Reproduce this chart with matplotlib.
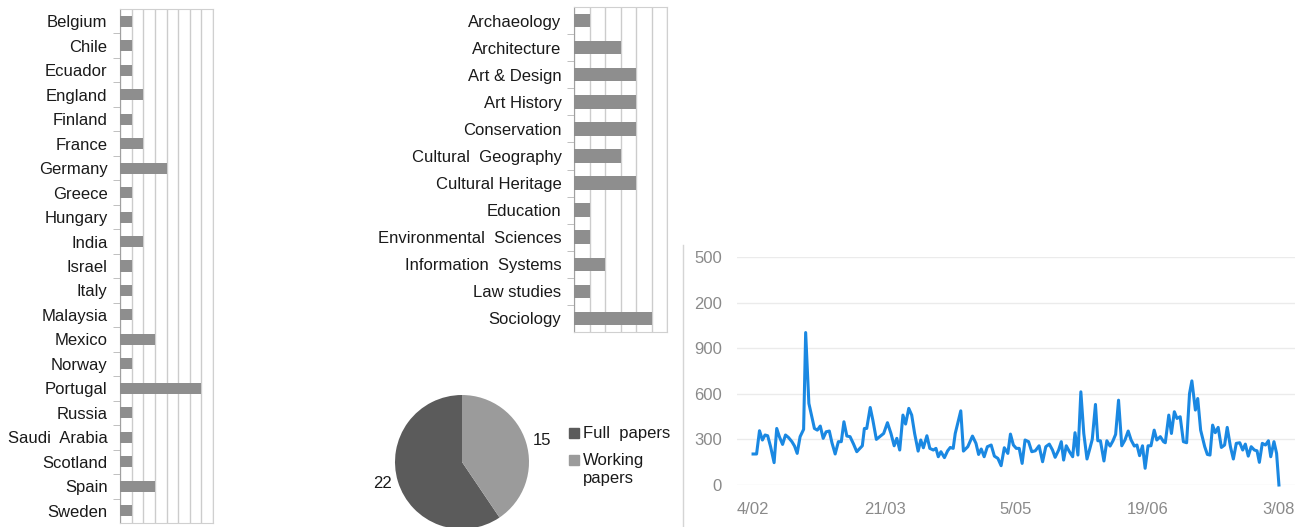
import matplotlib.pyplot as plt
from matplotlib.patches import Rectangle
from matplotlib.lines import Line2D

plt.rcParams['font.family'] = ['Liberation Sans', 'DejaVu Sans']

# papers per country
countries = ['Belgium', 'Chile', 'Ecuador', 'England', 'Finland', 'France', 'Germany',
             'Greece', 'Hungary', 'India', 'Israel', 'Italy', 'Malaysia', 'Mexico',
             'Norway', 'Portugal', 'Russia', 'Saudi  Arabia', 'Scotland', 'Spain', 'Sweden']
country_counts = [1, 1, 1, 2, 1, 2, 4, 1, 1, 2, 1, 1, 1, 3, 1, 7, 1, 1, 1, 3, 1]

# papers per discipline
disciplines = ['Archaeology', 'Architecture', 'Art & Design', 'Art History', 'Conservation',
               'Cultural  Geography', 'Cultural Heritage', 'Education',
               'Environmental  Sciences', 'Information  Systems', 'Law studies', 'Sociology']
discipline_counts = [1, 3, 4, 4, 4, 3, 4, 1, 1, 2, 1, 5]

# paper types
paper_types = ['Full  papers', 'Working\npapers']
paper_counts = [22, 15]

# daily visits (day offset from 4/02, value)
days = [0.0, 1.2, 2.2, 3.2, 4.1, 5.0, 6.0, 7.2, 8.1, 9.0, 10.1, 11.1, 12.1, 13.3, 14.2,
        15.1, 16.1, 17.3, 18.0, 19.1, 20.1, 21.0, 22.0, 23.0, 24.0, 25.0, 26.1, 27.0,
        28.1, 29.2, 30.2, 31.1, 32.1, 33.2, 34.4, 35.5, 36.6, 37.4, 38.1, 38.9, 40.1,
        41.0, 42.2, 43.6, 44.7, 46.0, 47.2, 48.3, 49.2, 50.2, 51.3, 52.2, 53.3, 54.3,
        55.3, 56.5, 57.4, 58.3, 59.5, 60.5, 61.7, 62.6, 63.4, 64.3, 65.5, 66.6, 67.5,
        68.5, 69.2, 71.1, 72.0, 73.5, 75.1, 76.3, 77.2, 78.1, 79.1, 80.2, 81.5, 82.6,
        83.8, 84.9, 86.0, 87.2, 88.1, 89.1, 90.1, 91.1, 92.1, 93.1, 94.3, 95.4, 96.6,
        97.9, 99.1, 100.2, 101.4, 102.5, 103.4, 104.6, 105.5, 106.3, 107.2, 108.3,
        109.4, 110.2, 111.2, 112.2, 113.2, 114.3, 115.2, 116.1, 117.2, 118.0, 118.9,
        120.1, 121.1, 122.2, 123.2, 124.1, 125.1, 126.2, 127.3, 128.4, 129.4, 130.5,
        131.4, 132.3, 133.3, 134.2, 135.2, 136.2, 137.3, 138.2, 139.4, 140.5, 141.1,
        142.3, 143.2, 144.2, 145.1, 146.2, 147.3, 148.4, 149.4, 150.2, 151.4, 152.2,
        153.2, 154.6, 155.5, 156.4, 157.3, 158.2, 159.2, 160.3, 161.4, 162.3, 163.4,
        164.4, 165.4, 166.6, 167.6, 168.5, 169.5, 170.5, 171.6, 172.5, 173.3, 174.3,
        175.4, 176.4, 177.2, 178.3, 179.2, 180.0]
visits = [204, 204, 357, 296, 329, 324, 252, 147, 372, 318, 267, 329, 313, 285, 256,
          208, 318, 366, 1003, 537, 449, 372, 361, 388, 307, 350, 355, 278,
          204, 285, 285, 416, 322, 318, 269, 219, 241, 258, 372, 372, 510,
          427, 300, 322, 339, 410, 339, 258, 307, 230, 460, 401, 504, 460,
          339, 223, 296, 245, 324, 241, 230, 241, 186, 219, 180, 225, 247,
          241, 339, 488, 223, 252, 322, 274, 201, 237, 186, 252, 263, 190,
          175, 127, 245, 208, 335, 263, 241, 241, 142, 296, 285, 219, 225,
          258, 153, 252, 269, 230, 182, 230, 285, 164, 258, 219,
          186, 344, 197, 613, 339, 171, 234, 300, 530, 291, 291,
          158, 291, 256, 291, 333, 558, 258, 296, 355, 296, 256,
          263, 193, 258, 110, 258, 258, 361, 296, 318, 285, 278,
          460, 339, 482, 438, 449, 285, 278, 602, 685, 493, 569,
          361, 252, 201, 197, 394, 344, 379, 247, 263, 379, 252,
          171, 274, 278, 230, 269, 190, 252, 230, 225, 149, 274,
          263, 291, 186, 285, 208, 0]
x_tick_days = [0, 45, 90, 135, 180]
x_tick_labels = ['4/02', '21/03', '5/05', '19/06', '3/08']
y_tick_values = [0, 300, 600, 900, 1200, 1500]
y_tick_labels = ['0', '300', '600', '900', '200', '500']  # as cropped in the picture

W, H = 1308, 527
fig = plt.figure(figsize=(W / 100, H / 100), dpi=100)
text_col = '#1a1a1a'


def box(x0, y0, x1, y1):
    # pixel box (y from top) -> figure fraction rect
    return [x0 / W, 1 - y1 / H, (x1 - x0) / W, (y1 - y0) / H]


def hbar_panel(rect, labels, values, xmax, bar_h):
    ax = fig.add_axes(rect)
    pos = list(range(len(labels)))
    ax.barh(pos, values, height=bar_h, color='#8e8e8e', zorder=3)
    ax.set_ylim(len(labels) - 0.5, -0.5)
    ax.set_xlim(0, xmax)
    ax.set_xticks(range(xmax + 1))
    ax.tick_params(axis='x', length=0, labelbottom=False)
    ax.grid(axis='x', color='#cccccc', lw=1, zorder=0)
    ax.set_yticks(pos)
    ax.set_yticklabels(labels, fontsize=12, color=text_col)
    ax.set_yticks([p + 0.5 for p in pos[:-1]], minor=True)
    ax.tick_params(axis='y', which='major', length=0, pad=9)
    ax.tick_params(axis='y', which='minor', length=5, color='#b5b5b5')
    for s in ['top', 'right', 'bottom']:
        ax.spines[s].set_color('#d0d0d0')
    ax.spines['left'].set_color('#a0a0a0')
    return ax


hbar_panel(box(120, 9, 213, 523), countries, country_counts, 8, 0.45)
hbar_panel(box(574, 7, 667, 332), disciplines, discipline_counts, 6, 0.5)

# pie of paper types
pie_colors = ['#5b5b5b', '#9b9b9b']
axp = fig.add_axes(box(395, 395, 529, 529))
axp.pie(paper_counts, labels=[str(c) for c in paper_counts], colors=pie_colors,
        startangle=90, labeldistance=1.1, textprops=dict(fontsize=12, color=text_col))
axp.set_xlim(-1, 1)
axp.set_ylim(-1, 1)

# legend drawn by hand
for i, (lab, col) in enumerate(zip(paper_types, pie_colors)):
    y_base = 438 + i * 27
    fig.add_artist(Rectangle((569 / W, 1 - y_base / H), 10 / W, 10 / H,
                             transform=fig.transFigure, color=col))
    for j, line in enumerate(lab.split('\n')):
        fig.text(583 / W, 1 - (y_base + j * 18) / H, line, fontsize=12,
                 color=text_col, va='baseline')

# visits line chart
axl = fig.add_axes(box(737, 257, 1295, 485))
axl.plot(days, visits, color='#1a88e2', lw=2.2, clip_on=False, solid_joinstyle='round')
axl.set_xlim(-5.5, 185.5)
axl.set_ylim(0, 1500)
axl.set_yticks(y_tick_values, y_tick_labels)
axl.set_xticks(x_tick_days, x_tick_labels)
axl.grid(axis='y', color='#ebebeb', lw=1)
axl.tick_params(length=0, labelsize=12, labelcolor='#8a8a8a')
axl.tick_params(axis='y', pad=11)
axl.tick_params(axis='x', pad=12)
for s in axl.spines.values():
    s.set_visible(False)

fig.add_artist(Line2D([683 / W, 683 / W], [1 - 245 / H, 0], color='#d5d5d5', lw=1))

fig.savefig('out.png', dpi=100)
